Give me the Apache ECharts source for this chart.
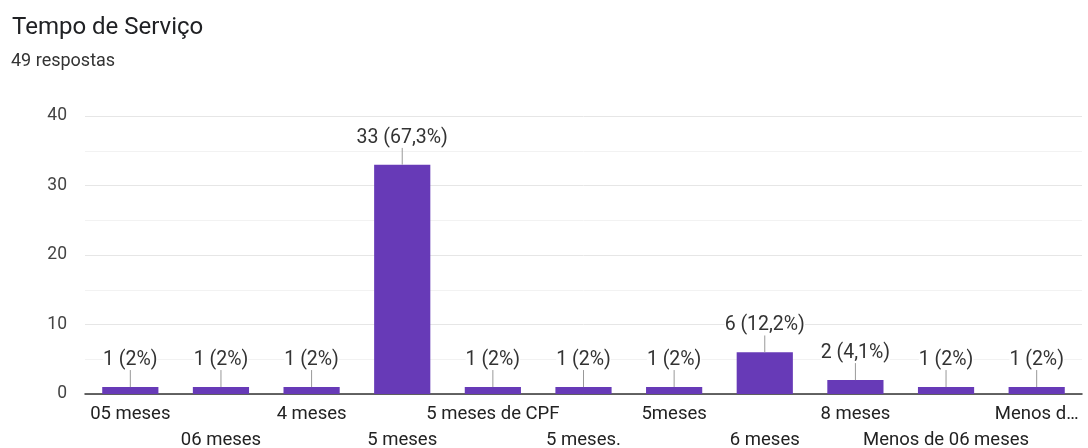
<!DOCTYPE html>
<html>
<head>
<meta charset="utf-8">
<script src="https://cdn.jsdelivr.net/npm/echarts@6/dist/echarts.min.js"></script>
<style>
  html, body { margin: 0; padding: 0; background: #fff; }
  #chart { width: 1088px; height: 448px; }
</style>
</head>
<body>
<div id="chart"></div>
<script>
// Survey answers: length of service
const categories = ['05 meses', '06 meses', '4 meses', '5 meses', '5 meses de CPF', '5 meses.',
                    '5meses', '6 meses', '8 meses', 'Menos de 06 meses', 'Menos d…'];
const counts = [1, 1, 1, 33, 1, 1, 1, 6, 2, 1, 1];
const percentLabels = ['2%', '2%', '2%', '67,3%', '2%', '2%', '2%', '12,2%', '4,1%', '2%', '2%'];
const yTicks = [0, 10, 20, 30, 40];

const FONT = 'Roboto, "Noto Sans", Arial, sans-serif';
const chart = echarts.init(document.getElementById('chart'));

chart.setOption({
  animation: false,
  textStyle: { fontFamily: FONT },
  title: [
    { text: 'Tempo de Serviço', left: 7, top: 11,
      textStyle: { fontSize: 24, fontWeight: 'normal', color: '#202124', fontFamily: FONT } },
    { text: '49 respostas', left: 6, top: 47,
      textStyle: { fontSize: 18, fontWeight: 'normal', color: '#333', fontFamily: FONT } }
  ],
  grid: { left: 85, right: 6, top: 116, bottom: 54, outerBoundsMode: 'none' },
  xAxis: {
    type: 'category',
    data: categories,
    axisTick: { show: false },
    axisLine: { lineStyle: { color: '#333', width: 1.5 } },
    axisLabel: {
      interval: 0,
      color: '#222',
      fontSize: 18.5,
      lineHeight: 26,
      margin: 7,
      formatter: (v, i) => (i % 2 === 1 ? '\n' + v : v)
    }
  },
  yAxis: {
    type: 'value',
    min: yTicks[0],
    max: yTicks[yTicks.length - 1],
    interval: 10,
    axisLine: { show: false },
    axisTick: { show: false },
    axisLabel: { color: '#444', fontSize: 17.5, margin: 18 },
    splitLine: { lineStyle: { color: '#e6e6e6' } },
    minorTick: { show: false, splitNumber: 2 },
    minorSplitLine: { show: true, lineStyle: { color: '#f2f2f2' } }
  },
  series: [
    {
      type: 'bar',
      data: counts,
      barCategoryGap: '38%',
      itemStyle: { color: '#673ab7' },
      z: 2
    },
    {
      // leader line from each bar top to its value label
      type: 'custom',
      data: counts.map((v, i) => [i, v]),
      z: 3,
      renderItem: (params, api) => {
        const p = api.coord([api.value(0), api.value(1)]);
        const i = params.dataIndex;
        return {
          type: 'group',
          children: [
            { type: 'line',
              shape: { x1: p[0], y1: p[1], x2: p[0], y2: p[1] - 17 },
              style: { stroke: '#999', lineWidth: 1 } },
            { type: 'text',
              style: {
                x: p[0], y: p[1] - 27,
                text: counts[i] + ' (' + percentLabels[i] + ')',
                fill: '#333', fontSize: 19.5, fontFamily: FONT,
                align: 'center', verticalAlign: 'middle',
                backgroundColor: '#fff'
              } }
          ]
        };
      }
    }
  ]
});
</script>
</body>
</html>
